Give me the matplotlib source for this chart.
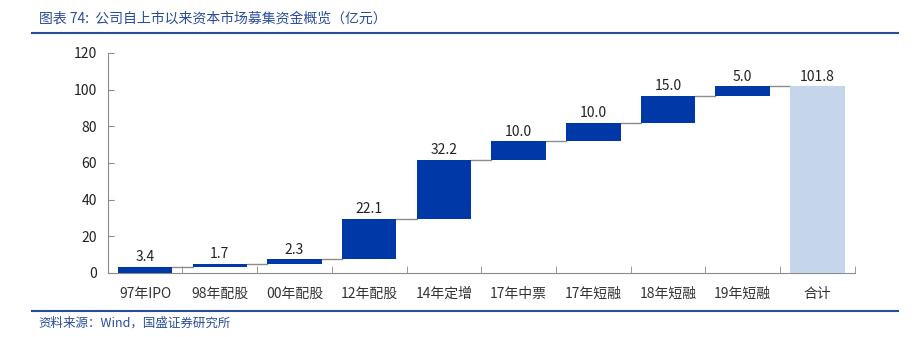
import matplotlib.pyplot as plt
import numpy as np
from matplotlib.ticker import FixedLocator

plt.rcParams["font.family"] = ["Noto Sans CJK SC", "DejaVu Sans"]

categories = ["97年IPO", "98年配股", "00年配股", "12年配股", "14年定增",
              "17年中票", "17年短融", "18年短融", "19年短融", "合计"]
steps = [3.4, 1.7, 2.3, 22.1, 32.2, 10.0, 10.0, 15.0, 5.0]
total = 101.8
labels = ["3.4", "1.7", "2.3", "22.1", "32.2", "10.0", "10.0", "15.0", "5.0", "101.8"]

dark = "#0038A8"
light = "#C5D6EC"
navy = "#2A4C9C"
grey = "#8c8c8c"

fig = plt.figure(figsize=(9.21, 3.37), dpi=100)
ax = fig.add_axes([0.117, 0.19, 0.811, 0.653])

bases = np.concatenate([[0], np.cumsum(steps)[:-1]])
tops = bases + np.array(steps)
w = 0.73
x = np.arange(len(categories))
ax.bar(x[:-1], steps, bottom=bases, width=w, color=dark, zorder=3)
ax.bar(x[-1], total, width=w, color=light, zorder=3)

# connectors between bars
for i, lvl in enumerate(tops):
    ax.plot([i + w / 2, i + 1 - w / 2], [lvl, lvl], color=grey, lw=1.0, zorder=2)

label_y = list(tops) + [total]
for i, (yv, t) in enumerate(zip(label_y, labels)):
    ax.text(i, yv + 1.5, t, ha="center", va="bottom", fontsize=10, color="#222222")

ax.set_xlim(-0.5, len(categories) - 0.5)
ax.set_ylim(0, 120)
ax.set_yticks(range(0, 121, 20))
ax.set_xticks(x)
ax.set_xticklabels(categories, fontsize=10, color="#333333")
ax.xaxis.set_minor_locator(FixedLocator(np.arange(0.5, len(categories), 1)))
ax.tick_params(axis="x", which="major", length=0, pad=10)
ax.tick_params(axis="x", which="minor", length=5, direction="in", color=grey)
ax.tick_params(axis="y", length=4, direction="in", color=grey, labelsize=10,
               labelcolor="#222222", pad=8)
for s in ["top", "right"]:
    ax.spines[s].set_visible(False)
for s in ["left", "bottom"]:
    ax.spines[s].set_color(grey)

fig.text(0.042, 0.945, "图表 74:  公司自上市以来资本市场募集资金概览（亿元）", fontsize=10,
         color=navy, style="italic", va="center")
fig.add_artist(plt.Line2D([0.035, 0.975], [0.903, 0.903], color=navy, lw=1.5))
fig.add_artist(plt.Line2D([0.035, 0.975], [0.077, 0.077], color=navy, lw=1.5))
fig.text(0.042, 0.04, "资料来源：Wind，国盛证券研究所", fontsize=9, color=navy,
         style="italic", va="center")

fig.savefig("out.png", dpi=100)
